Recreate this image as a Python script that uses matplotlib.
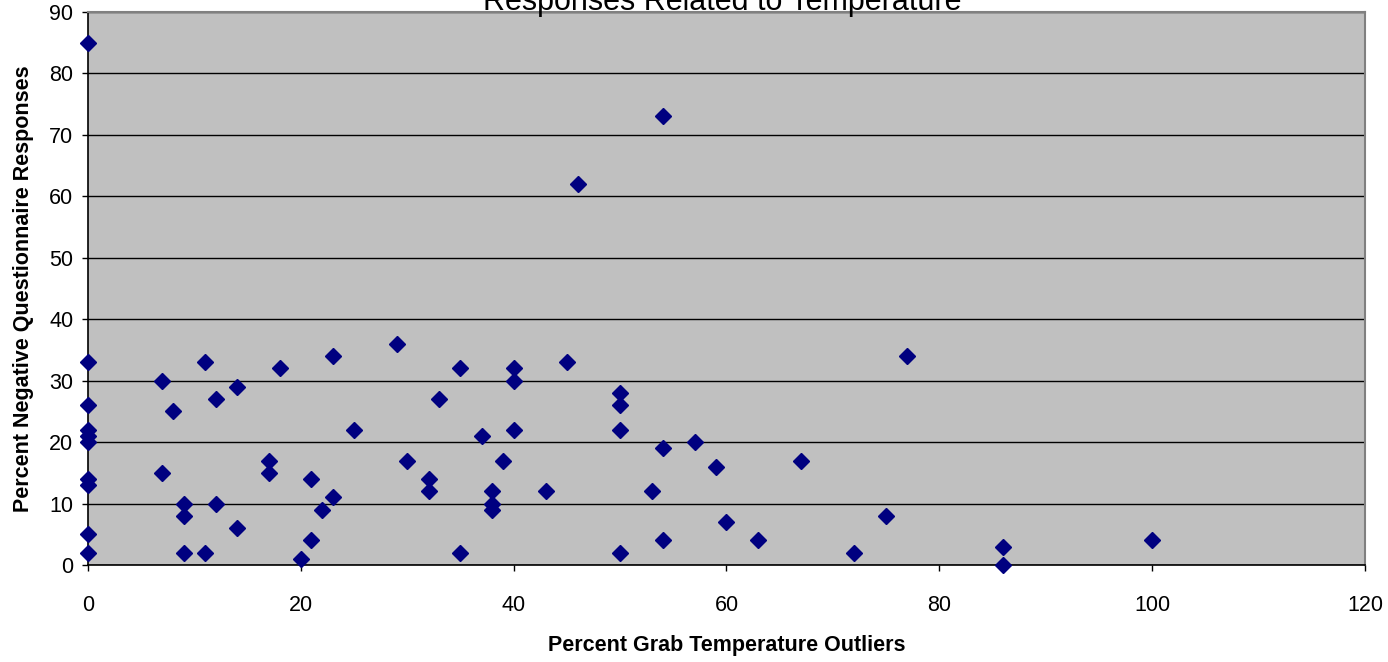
import matplotlib.pyplot as plt

plt.rcParams['font.family'] = ['Liberation Sans', 'DejaVu Sans']

# Percent grab temperature outliers (x) vs percent negative responses (y)
outliers = [0, 0, 0, 0, 0, 0, 0, 0, 0, 0,
            7, 7, 8, 9, 9, 9, 11, 11, 12, 12,
            14, 14, 17, 17, 18, 20, 21, 21, 22, 23,
            23, 25, 29, 30, 32, 32, 33, 35, 35, 37,
            38, 38, 38, 39, 40, 40, 40, 43, 45, 46,
            50, 50, 50, 50, 53, 54, 54, 54, 57, 59,
            60, 63, 67, 72, 75, 77, 86, 86, 100]
negative = [85, 33, 26, 22, 21, 20, 14, 13, 5, 2,
            30, 15, 25, 10, 8, 2, 33, 2, 27, 10,
            29, 6, 17, 15, 32, 1, 14, 4, 9, 34,
            11, 22, 36, 17, 14, 12, 27, 32, 2, 21,
            12, 10, 9, 17, 32, 30, 22, 12, 33, 62,
            28, 26, 22, 2, 12, 73, 19, 4, 20, 16,
            7, 4, 17, 2, 8, 34, 3, 0, 4]

x_ticks = [0, 20, 40, 60, 80, 100, 120]
y_ticks = [0, 10, 20, 30, 40, 50, 60, 70, 80, 90]

fig = plt.figure(figsize=(13.88, 6.62), dpi=100)
ax = fig.add_axes([0.0634, 0.1465, 0.92, 0.8354])
ax.set_facecolor('#c0c0c0')

ax.plot(outliers, negative, linestyle='none', marker='D', markersize=7.8,
        color='#000080', clip_on=False, zorder=3)

ax.set_xlim(0, 120)
ax.set_ylim(0, 90)
ax.set_xticks(x_ticks)
ax.set_yticks(y_ticks)
ax.yaxis.grid(True, color='black', linewidth=1)
ax.set_axisbelow(True)

ax.tick_params(direction='out', length=4.5, width=1, labelsize=15.5, colors='black')
ax.tick_params(axis='x', pad=17)
ax.tick_params(axis='y', pad=6)

for side in ['top', 'right']:
    ax.spines[side].set_color('#808080')
    ax.spines[side].set_linewidth(1.5)
for side in ['left', 'bottom']:
    ax.spines[side].set_color('black')
    ax.spines[side].set_linewidth(1.2)

ax.set_xlabel('Percent Grab Temperature Outliers', fontsize=15.5, fontweight='bold', labelpad=14)
ax.set_ylabel('Percent Negative Questionnaire Responses', fontsize=15.5, fontweight='bold', labelpad=11)

fig.text(0.52, 0.985, 'Responses Related to Temperature', fontsize=22,
         ha='center', va='baseline')

fig.savefig('out.png', dpi=100)
